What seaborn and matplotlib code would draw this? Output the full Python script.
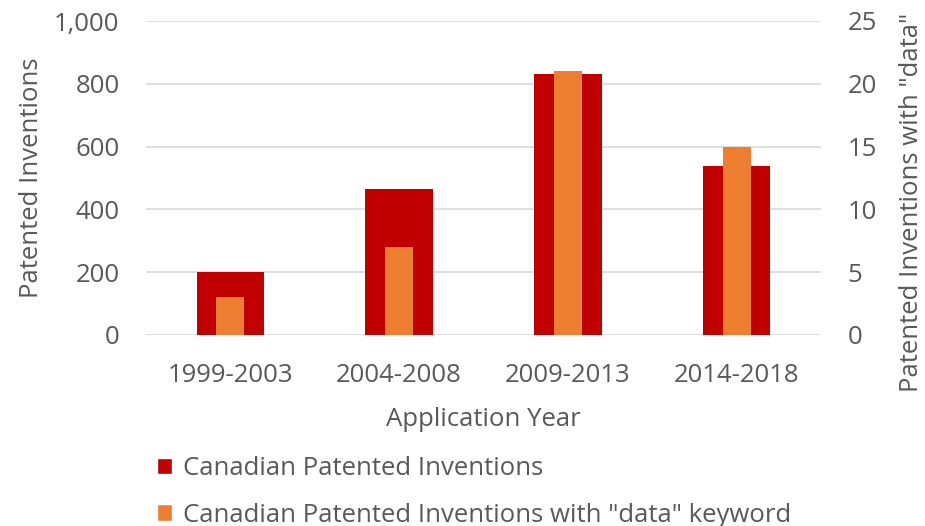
import pandas as pd
import matplotlib
matplotlib.use("Agg")
import matplotlib.pyplot as plt
from matplotlib.patches import Patch
import seaborn as sns

# Data
periods = ["1999-2003", "2004-2008", "2009-2013", "2014-2018"]
patented = [202, 466, 831, 537]
patented_data_kw = [3, 7, 21, 15]

RED = "#C00000"
ORANGE = "#ED7D31"
TEXT = "#595959"
GRID = "#D9D9D9"
FS = 18.5

sns.set_theme(style="white")
plt.rcParams["font.family"] = ["Open Sans", "DejaVu Sans"]
plt.rcParams["text.color"] = TEXT
plt.rcParams["axes.labelcolor"] = TEXT
plt.rcParams["xtick.color"] = TEXT
plt.rcParams["ytick.color"] = TEXT

df = pd.DataFrame({"period": periods, "patented": patented, "data_kw": patented_data_kw})

fig = plt.figure(figsize=(9.25, 5.26), dpi=100)
ax = fig.add_axes([146 / 925, 1 - 335 / 526, 675 / 925, 314 / 526])
ax2 = ax.twinx()

sns.barplot(data=df, x="period", y="patented", color=RED, width=0.4,
            saturation=1, linewidth=0, ax=ax, zorder=2)
sns.barplot(data=df, x="period", y="data_kw", color=ORANGE, width=0.166,
            saturation=1, linewidth=0, ax=ax2, zorder=2)

ax.set_ylim(0, 1000)
ax.set_yticks(range(0, 1001, 200))
ax.set_yticklabels([f"{v:,}" for v in range(0, 1001, 200)])
ax2.set_ylim(0, 25)
ax2.set_yticks(range(0, 26, 5))
ax.set_xlim(-0.5, 3.5)

ax.grid(axis="y", color=GRID, linewidth=1.2)
ax.grid(axis="x", visible=False)
ax.set_axisbelow(True)
ax2.grid(False)

for a in (ax, ax2):
    for s in a.spines.values():
        s.set_visible(False)
    a.tick_params(axis="both", length=0, labelsize=FS, pad=19)

ax.tick_params(axis="x", pad=20)
ax.set_xlabel("Application Year", fontsize=FS, labelpad=14)
ax.set_ylabel("Patented Inventions", fontsize=FS, labelpad=7)
ax2.set_ylabel("")

fig.text(912 / 925, 1 - 392 / 526, 'Patented Inventions with "data"',
         rotation=90, ha="center", va="bottom", fontsize=FS, color=TEXT)

handles = [Patch(facecolor=RED, label="Canadian Patented Inventions"),
           Patch(facecolor=ORANGE, label='Canadian Patented Inventions with "data" keyword')]
fig.legend(handles=handles, loc="upper left", bbox_to_anchor=(157 / 925, 1 - 456 / 526),
           frameon=False, fontsize=FS, handlelength=0.6, handleheight=0.6,
           handletextpad=0.4, borderpad=0, borderaxespad=0, labelspacing=0.84,
           labelcolor=TEXT)

fig.savefig("out.png", dpi=100)
